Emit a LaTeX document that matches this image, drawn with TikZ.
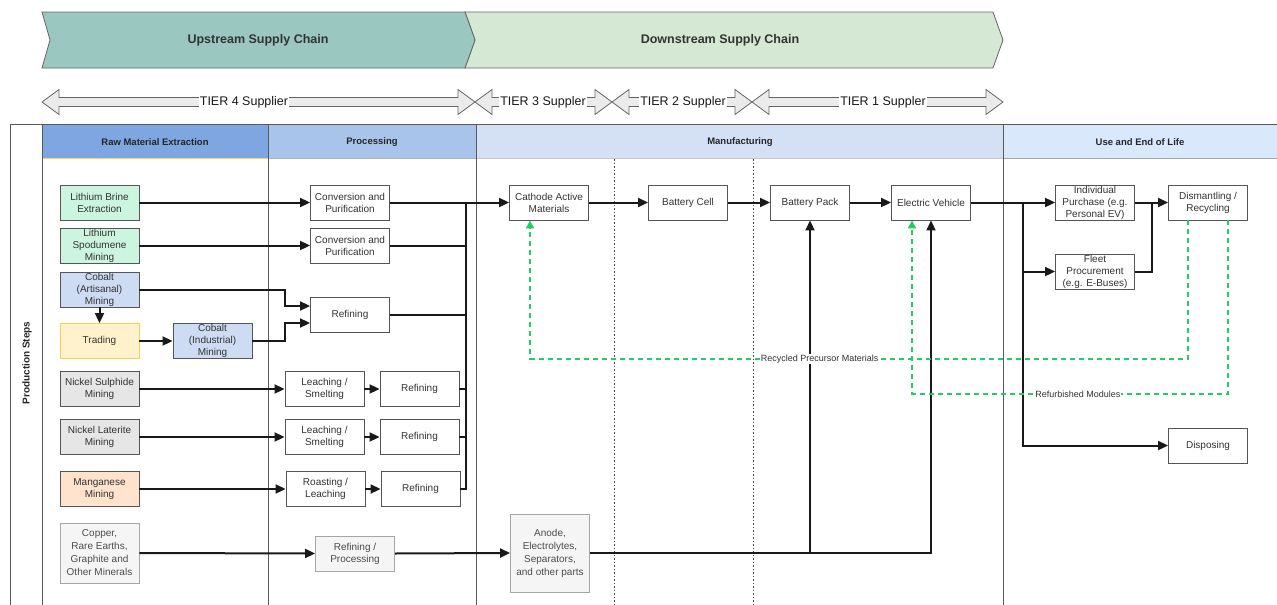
\documentclass[tikz,border=0pt]{standalone}
\usepackage{fontspec}
\setmainfont{Liberation Sans}
\usetikzlibrary{arrows.meta,calc}
\definecolor{upc}{HTML}{9AC7BF}
\definecolor{downc}{HTML}{D5E8D4}
\definecolor{hraw}{HTML}{7EA6E0}
\definecolor{hproc}{HTML}{A9C4EB}
\definecolor{hman}{HTML}{D4E1F5}
\definecolor{huse}{HTML}{DAE8FC}
\definecolor{bgreen}{HTML}{CCF5DF}
\definecolor{bblue}{HTML}{CDDBF3}
\definecolor{byellow}{HTML}{FFF2CC}
\definecolor{bgray}{HTML}{E6E6E6}
\definecolor{bpeach}{HTML}{FFE3CC}
\definecolor{blight}{HTML}{F5F5F5}
\definecolor{edgec}{HTML}{555555}
\definecolor{txtc}{HTML}{333333}
\definecolor{recyc}{HTML}{22CC66}
\definecolor{tierfill}{HTML}{EBEBEB}
\newcommand\tierarr[2]{%
  \filldraw[fill=tierfill,draw=gray!80!black,line width=0.8pt]
    (#1,102) -- (#1+17,89.5) -- (#1+17,97.5) -- (#2-17,97.5) -- (#2-17,89.5)
    -- (#2,102) -- (#2-17,114.5) -- (#2-17,106.5) -- (#1+17,106.5)
    -- (#1+17,114.5) -- cycle;}
\begin{document}
\begin{tikzpicture}[x=1pt,y=-1pt,
  box/.style={draw=edgec,line width=0.9pt,fill=white,minimum width=79pt,
    minimum height=35pt,inner sep=0.5pt,align=center,text=txtc,
    font=\fontsize{10}{12}\selectfont},
  lbox/.style={box,fill=blight,draw=gray!70,text=gray!60!black},
  hdr/.style={font=\fontsize{9.5}{11}\selectfont\bfseries,text=black!85},
  conn/.style={line width=2pt,black!90},
  arr/.style={conn,-{Triangle[length=10pt,width=9pt]}},
  garr/.style={line width=2pt,recyc,dash pattern=on 5pt off 4pt,
    -{Triangle[length=8pt,width=8pt]}},
  lab/.style={fill=white,inner sep=0.5pt,text=txtc,font=\fontsize{9}{10}\selectfont},
  tier/.style={fill=white,inner sep=1pt,text=black!90,font=\fontsize{12.5}{14}\selectfont},
]
\useasboundingbox (0,0) rectangle (1277,605);
% banners
\filldraw[fill=downc,draw=gray!80!black,line width=0.8pt]
  (465,12) -- (993,12) -- (1003,40) -- (993,68) -- (465,68) -- (475,40) -- cycle;
\filldraw[fill=upc,draw=gray!80!black,line width=0.8pt]
  (42,12) -- (465,12) -- (475,40) -- (465,68) -- (42,68) -- (50,40) -- cycle;
\node[font=\fontsize{12.5}{14}\selectfont\bfseries,text=txtc] (up) at (258,40) {Upstream Supply Chain};
\node[font=\fontsize{12.5}{14}\selectfont\bfseries,text=txtc] (down) at (720,40) {Downstream Supply Chain};
% tier arrows
\tierarr{42}{475}
\tierarr{475}{612}
\tierarr{612}{752}
\tierarr{752}{1003}
\node[tier] (t4) at (244,102) {TIER 4 Supplier};
\node[tier] (t3) at (543,102) {TIER 3 Suppler};
\node[tier] (t2) at (683,102) {TIER 2 Suppler};
\node[tier] (t1) at (883,102) {TIER 1 Suppler};
% headers
\fill[hraw] (42,125) rectangle (268,158);
\fill[hproc] (268,125) rectangle (476,158);
\fill[hman] (476,125) rectangle (1003,158);
\fill[huse] (1003,125) rectangle (1277,158);
\draw[line width=1pt,draw=yellow!50!orange!60] (42,158.5) -- (268,158.5);
\draw[line width=0.8pt,draw=gray!60] (268,158.5) -- (476,158.5);
\draw[line width=0.8pt,draw=red!15!gray!40] (476,158.5) -- (1003,158.5);
\draw[line width=0.8pt,draw=gray!70] (1003,158.5) -- (1277,158.5);
\node[hdr] (h1) at (155,142) {Raw Material Extraction};
\node[hdr] (h2) at (372,142) {Processing};
\node[hdr] (h3) at (740,142) {Manufacturing};
\node[hdr] (h4) at (1140,142) {Use and End of Life};
% frame and column lines
\draw[gray!70!black,line width=0.9pt] (1277,124.5) -- (10,124.5) -- (10,605);
\draw[gray!70!black,line width=0.9pt] (42,124.5) -- (42,605);
\draw[gray!70!black,line width=0.9pt] (268,124.5) -- (268,605);
\draw[gray!70!black,line width=0.9pt] (476,124.5) -- (476,605);
\draw[gray!70!black,line width=0.9pt] (1003,124.5) -- (1003,605);
\draw[gray!60!black,line width=0.9pt,dash pattern=on 1.5pt off 2pt] (614,159) -- (614,605);
\draw[gray!60!black,line width=0.9pt,dash pattern=on 1.5pt off 2pt] (753,159) -- (753,605);
\node[rotate=90,font=\fontsize{10}{12}\selectfont\bfseries,text=black!85] (ps) at (27,363) {Production Steps};
% raw material nodes
\node[box,fill=bgreen] (brine) at (99.5,202.5) {Lithium Brine\\Extraction};
\node[box,fill=bgreen] (spod) at (99.5,245.5) {Lithium\\Spodumene\\Mining};
\node[box,fill=bblue] (cobA) at (99.5,289.5) {Cobalt\\(Artisanal)\\Mining};
\node[box,fill=byellow,draw=yellow!50!orange!70] (trade) at (99.5,341) {Trading};
\node[box,fill=bblue] (cobI) at (212.5,341) {Cobalt\\(Industrial)\\Mining};
\node[box,fill=bgray] (nis) at (99.5,389) {Nickel Sulphide\\Mining};
\node[box,fill=bgray] (nil) at (99.5,437) {Nickel Laterite\\Mining};
\node[box,fill=bpeach] (mn) at (99.5,489) {Manganese\\Mining};
\node[lbox,minimum height=60pt,font=\fontsize{10}{13}\selectfont] (cu) at (99.5,553) {Copper,\\Rare Earths,\\Graphite and\\Other Minerals};
% processing nodes
\node[box] (conv1) at (350,202.5) {Conversion and\\Purification};
\node[box] (conv2) at (350,245.5) {Conversion and\\Purification};
\node[box] (refC) at (350,314.5) {Refining};
\node[box] (leach1) at (324.5,389) {Leaching /\\Smelting};
\node[box] (refN1) at (419.5,389) {Refining};
\node[box] (leach2) at (324.5,437) {Leaching /\\Smelting};
\node[box] (refN2) at (419.5,437) {Refining};
\node[box] (roast) at (325.5,489) {Roasting /\\Leaching};
\node[box] (refM) at (420.5,489) {Refining};
\node[lbox] (refP) at (355,553.5) {Refining /\\Processing};
% manufacturing nodes
\node[box] (cam) at (549,202.5) {Cathode Active\\Materials};
\node[box] (cell) at (688,202.5) {Battery Cell};
\node[box] (pack) at (810,202.5) {Battery Pack};
\node[box] (ev) at (931,202.5) {Electric Vehicle};
\node[lbox,minimum height=78pt,font=\fontsize{10}{13}\selectfont] (anode) at (550,553) {Anode,\\Electrolytes,\\Separators,\\and other parts};
% use nodes
\node[box] (ind) at (1095,202.5) {Individual\\Purchase (e.g.\\Personal EV)};
\node[box] (fleet) at (1095,271.5) {Fleet\\Procurement\\(e.g. E-Buses)};
\node[box] (dis) at (1208,202.5) {Dismantling /\\Recycling};
\node[box] (disp) at (1208,445.5) {Disposing};
% raw -> processing
\draw[arr] (brine.east) -- (conv1.west);
\draw[arr] (spod.east) -- (conv2.west);
\draw[arr] (cobA.east) -| ([xshift=-25pt,yshift=8.5pt]refC.west) -- ([yshift=8.5pt]refC.west);
\draw[arr] (cobI.east) -| ([xshift=-25pt,yshift=-8.5pt]refC.west) -- ([yshift=-8.5pt]refC.west);
\draw[arr] (cobA.south) -- (trade.north);
\draw[arr] (trade.east) -- (cobI.west);
\draw[arr] (nis.east) -- (leach1.west);
\draw[arr] (leach1.east) -- (refN1.west);
\draw[arr] (nil.east) -- (leach2.west);
\draw[arr] (leach2.east) -- (refN2.west);
\draw[arr] (mn.east) -- (roast.west);
\draw[arr] (roast.east) -- (refM.west);
\draw[arr] (cu.east) -- (refP.west);
\draw[arr] (refP.east) -- (anode.west);
% processing -> cathode bus
\coordinate (bus) at ($(cam.west)+(-43,0)$);
\draw[conn] (conv2.east) -| (bus);
\draw[conn] (refC.east) -| (bus);
\draw[conn] (refN1.east) -| (bus);
\draw[conn] (refN2.east) -| (bus);
\draw[conn] (refM.east) -| (bus);
\draw[arr] (conv1.east) -- (cam.west);
% manufacturing chain
\draw[arr] (cam.east) -- (cell.west);
\draw[arr] (cell.east) -- (pack.west);
\draw[arr] (pack.east) -- (ev.west);
\draw[arr] (anode.east) -| (pack.south);
\draw[arr] (anode.east) -| (ev.south);
% use and end of life
\coordinate (evsplit) at ($(ev.east)+(52,0)$);
\draw[arr] (ev.east) -- (ind.west);
\draw[arr] (evsplit) |- (fleet.west);
\draw[arr] (evsplit) |- (disp.west);
\draw[arr] (ind.east) -- (dis.west);
\draw[conn] (fleet.east) -| ([xshift=-16.5pt]dis.west);
% recycling loops
\draw[garr] ([xshift=-20pt]dis.south) -- ++(0,138.5)
  -- node[lab,pos=0.56] (rpm) {Recycled Precursor Materials} ($(cam.south)+(-19,138.5)$)
  -- ([xshift=-19pt]cam.south);
\draw[garr] ([xshift=20pt]dis.south) -- ++(0,173.5)
  -- node[lab,pos=0.475] (rm) {Refurbished Modules} ($(ev.south)+(-19,173.5)$)
  -- ([xshift=-19pt]ev.south);
\end{tikzpicture}
\end{document}
